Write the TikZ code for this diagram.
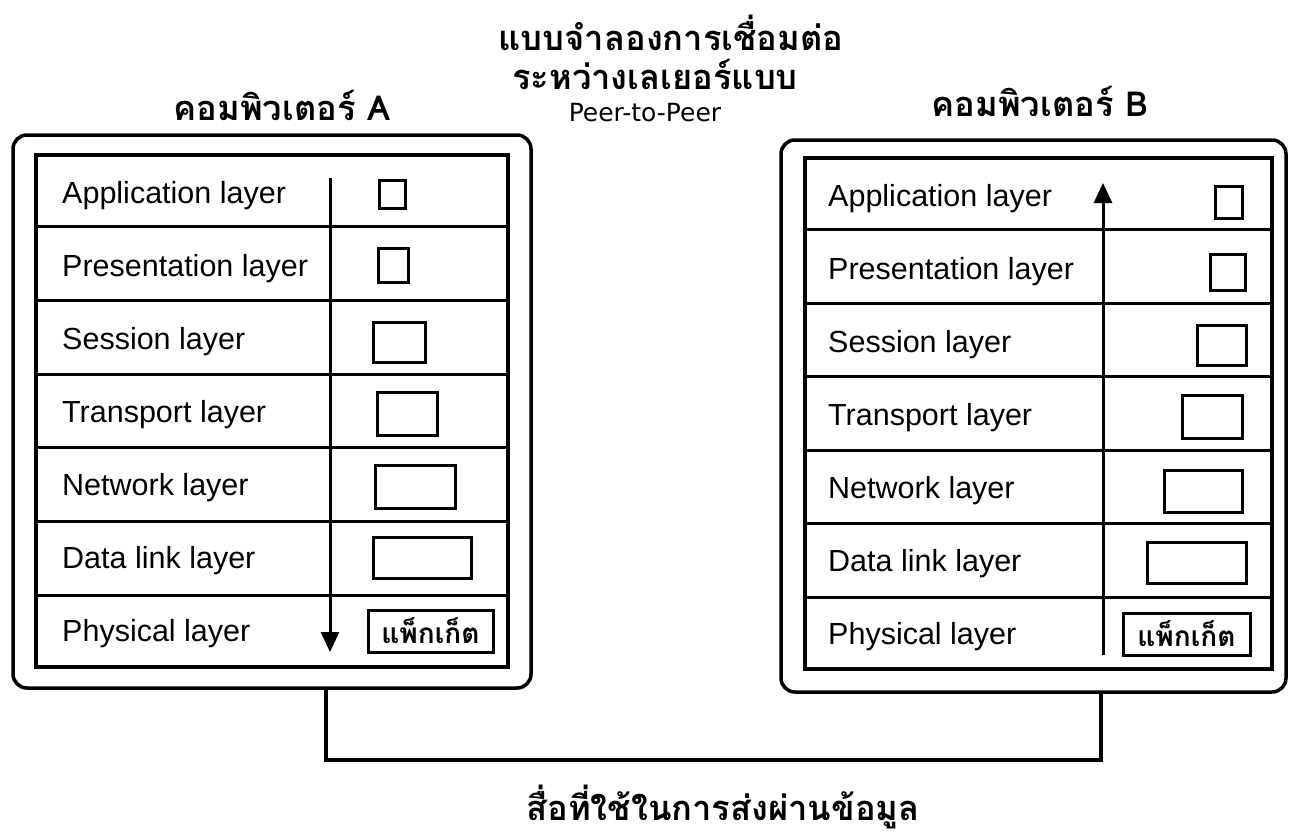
\documentclass[tikz,border=0pt]{standalone}
\usepackage{fontspec}
\setmainfont{Liberation Sans}
\newfontfamily\thai[Script=Thai]{Loma}
\newfontfamily\wide{DejaVu Sans}
\usetikzlibrary{arrows.meta,calc}
\begin{document}
\begin{tikzpicture}[x=1pt,y=-1pt,
  outerbox/.style={draw, line width=3.5pt, rounded corners=14pt, inner sep=0pt},
  tablebox/.style={draw, line width=3.5pt, inner sep=0pt},
  rowline/.style={line width=3pt},
  pkt/.style={draw, line width=3pt, inner sep=0pt},
  lbl/.style={anchor=base west, font=\fontsize{30.5}{32}\selectfont, inner sep=0pt},
  thaititle/.style={anchor=base, font=\thai\bfseries\fontsize{34.5}{36}\selectfont, inner sep=0pt},
  pkttext/.style={anchor=base, font=\thai\bfseries\fontsize{28}{30}\selectfont, inner sep=0pt},
  flow/.style={line width=3pt, -{Triangle[length=20pt,width=18pt]}},
  link/.style={line width=4pt}
]
\useasboundingbox (0,0) rectangle (1290,835);

% titles
\node[thaititle] (t1) at (671,50) {แบบจำลองการเชื่อมต่อ};
\node[thaititle] (t2) at (655,89) {ระหว่างเลเยอร์แบบ};
\node[anchor=base, inner sep=0pt, font=\wide\fontsize{25}{27}\selectfont] (t3) at (645,121) {Peer-to-Peer};
\node[thaititle] (hA) at (282,120) {คอมพิวเตอร์ A};
\node[thaititle] (hB) at (1040,116) {คอมพิวเตอร์ B};

% computer A
\node[outerbox, minimum width=518pt, minimum height=553pt] (compA) at (272,411.5) {};
\node[tablebox, minimum width=472pt, minimum height=512pt] (tabA) at (272,411) {};
\foreach \i in {1,...,6}
  \draw[rowline] ($(tabA.north west)!\i/7!(tabA.south west)$) -- ($(tabA.north east)!\i/7!(tabA.south east)$);
\node[lbl] (la1) at (62,203) {Application layer};
\node[lbl] (la2) at (62,276) {Presentation layer};
\node[lbl] (la3) at (62,349) {Session layer};
\node[lbl] (la4) at (62,422) {Transport layer};
\node[lbl] (la5) at (62,495) {Network layer};
\node[lbl] (la6) at (62,568) {Data link layer};
\node[lbl] (la7) at (62,641) {Physical layer};
\node[pkt, minimum width=26pt, minimum height=28pt] (ba1) at (392,194) {};
\node[pkt, minimum width=30pt, minimum height=34pt] (ba2) at (393,265.5) {};
\node[pkt, minimum width=52pt, minimum height=40pt] (ba3) at (399,342) {};
\node[pkt, minimum width=60pt, minimum height=43pt] (ba4) at (407,413.5) {};
\node[pkt, minimum width=80pt, minimum height=43pt] (ba5) at (415,486.5) {};
\node[pkt, minimum width=98pt, minimum height=41pt] (ba6) at (422,557.5) {};
\node[pkt, minimum width=125pt, minimum height=42pt] (ba7) at (430.5,631) {};
\node[pkttext] (pa) at ($(ba7.center)+(0,12)$) {แพ็กเก็ต};
\coordinate (aTop) at (330,178);
\coordinate (aBot) at (330,652);
\draw[flow] (aTop) -- (aBot);

% computer B
\node[outerbox, minimum width=505pt, minimum height=552pt] (compB) at (1033.5,416) {};
\node[tablebox, minimum width=467pt, minimum height=511pt] (tabB) at (1038.5,413.5) {};
\foreach \i in {1,...,6}
  \draw[rowline] ($(tabB.north west)!\i/7!(tabB.south west)$) -- ($(tabB.north east)!\i/7!(tabB.south east)$);
\node[lbl] (lb1) at (828,206) {Application layer};
\node[lbl] (lb2) at (828,279) {Presentation layer};
\node[lbl] (lb3) at (828,352) {Session layer};
\node[lbl] (lb4) at (828,425) {Transport layer};
\node[lbl] (lb5) at (828,498) {Network layer};
\node[lbl] (lb6) at (828,571) {Data link layer};
\node[lbl] (lb7) at (828,644) {Physical layer};
\node[pkt, minimum width=27pt, minimum height=32pt] (bb1) at (1228.5,202) {};
\node[pkt, minimum width=35pt, minimum height=36pt] (bb2) at (1227.5,272) {};
\node[pkt, minimum width=49pt, minimum height=40pt] (bb3) at (1221.5,345) {};
\node[pkt, minimum width=60pt, minimum height=43pt] (bb4) at (1212,416.5) {};
\node[pkt, minimum width=78pt, minimum height=42pt] (bb5) at (1203,491) {};
\node[pkt, minimum width=99pt, minimum height=41pt] (bb6) at (1196.5,562.5) {};
\node[pkt, minimum width=127pt, minimum height=42pt] (bb7) at (1186.5,634) {};
\node[pkttext] (pb) at ($(bb7.center)+(0,12)$) {แพ็กเก็ต};
\coordinate (bBot) at (1103,655);
\coordinate (bTop) at (1103,183);
\draw[flow] (bBot) -- (bTop);

% link between computers
\coordinate (lx) at (326,0);
\coordinate (rx) at (1101,0);
\draw[link] (compA.south -| lx) -- ++(0,70) -| (compB.south -| rx);
\node[thaititle] (medium) at (723,820) {สื่อที่ใช้ในการส่งผ่านข้อมูล};
\end{tikzpicture}
\end{document}
